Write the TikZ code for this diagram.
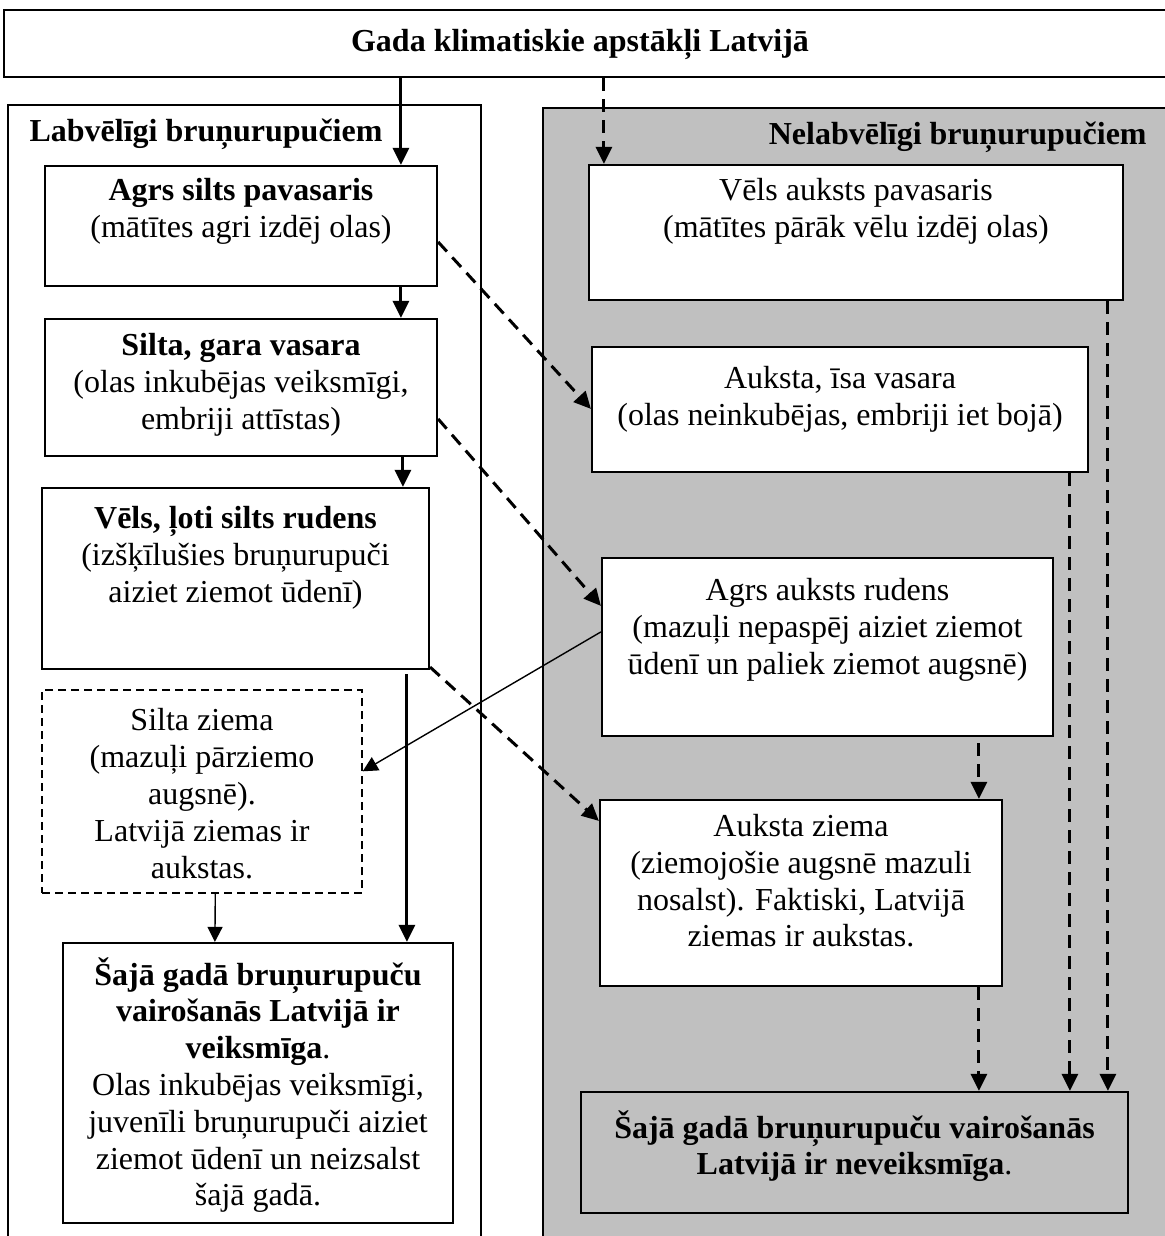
\documentclass[tikz,border=0pt]{standalone}
\usepackage{fontspec}
\setmainfont{Liberation Serif}
\usetikzlibrary{arrows.meta, positioning, fit, calc}
\definecolor{panelgray}{HTML}{C0C0C0}

\begin{document}
\begin{tikzpicture}[x=0.5pt, y=-0.5pt,
    box/.style={draw, line width=1.1pt, fill=white, inner sep=0pt},
    txt/.style={align=center, inner sep=0pt, font=\fontsize{16pt}{18.4pt}\selectfont, execute at begin node=\strut},
    strongarrow/.style={-{Triangle[length=8.5pt,width=8pt]}, line width=1.5pt},
    dasharrow/.style={-{Triangle[length=8.5pt,width=8pt]}, line width=1.5pt, dash pattern=on 6.5pt off 4pt},
    weakarrow/.style={-{Triangle[length=7.5pt,width=7.5pt]}, line width=0.7pt}
]
\useasboundingbox (0,0) rectangle (1165,1236);

\draw[line width=0.9pt] (8,1260) -- (8,105) -- (481,105) -- (481,1260);
\filldraw[fill=panelgray, line width=0.9pt] (543,1260) -- (543,108) -- (1180,108) -- (1180,1260);

\node[box, fit={(4,10) (1180,77)}] (top) {};
\node[txt] (title) at (580,44) {\textbf{Gada klimatiskie apstākļi Latvijā}};
\node[txt] (goodT) at (206,134) {\textbf{Labvēlīgi bruņurupučiem}};
\node[txt, anchor=east] (badT) at (1147,137) {\textbf{Nelabvēlīgi bruņurupučiem}};

\node[box, fit={(45,166) (437,286)}] (agrs) {};
\node[txt, below=6.5pt of agrs.north] (agrsT) {\textbf{Agrs silts pavasaris}\\(mātītes agri izdēj olas)};

\node[box, fit={(589,165) (1123,300)}] (vels) {};
\node[txt, below=7pt of vels.north] (velsT) {Vēls auksts pavasaris\\(mātītes pārāk vēlu izdēj olas)};

\node[box, fit={(45,319) (437,456)}] (vasara) {};
\node[txt, below=7.5pt of vasara.north] (vasaraT) {\textbf{Silta, gara vasara}\\(olas inkubējas veiksmīgi,\\embriji attīstas)};

\node[box, fit={(592,347) (1088,472)}] (aukstaV) {};
\node[txt, below=10pt of aukstaV.north] (aukstaVT) {Auksta, īsa vasara\\(olas neinkubējas, embriji iet bojā)};

\node[box, fit={(42,488) (429,669)}] (rudens) {};
\node[txt, below=9.5pt of rudens.north] (rudensT) {\textbf{Vēls, ļoti silts rudens}\\(izšķīlušies bruņurupuči\\aiziet ziemot ūdenī)};

\node[box, fit={(602,558) (1053,736)}] (agrsR) {};
\node[txt, below=10.5pt of agrsR.north] (agrsRT) {Agrs auksts rudens\\(mazuļi nepaspēj aiziet ziemot\\ūdenī un paliek ziemot augsnē)};

\node[box, line width=0.7pt, dash pattern=on 4pt off 2.5pt, fit={(42,690) (362,893)}] (ziema) {};
\node[txt, below=9.5pt of ziema.north] (ziemaT) {Silta ziema\\(mazuļi pārziemo\\augsnē).\\Latvijā ziemas ir\\aukstas.};

\node[box, fit={(600,800) (1002,986)}] (aukstaZ) {};
\node[txt, below=7.5pt of aukstaZ.north] (aukstaZT) {Auksta ziema\\(ziemojošie augsnē mazuli\\nosalst). Faktiski, Latvijā\\ziemas ir aukstas.};

\node[box, fit={(63,943) (453,1223)}] (labs) {};
\node[txt, below=7.5pt of labs.north] (labsT) {\textbf{Šajā gadā bruņurupuču}\\\textbf{vairošanās Latvijā ir}\\\textbf{veiksmīga}.\\Olas inkubējas veiksmīgi,\\juvenīli bruņurupuči aiziet\\ziemot ūdenī un neizsalst\\šajā gadā.};

\node[box, fill=panelgray, fit={(581,1092) (1128,1213)}] (slikts) {};
\node[txt, below=9.5pt of slikts.north] (sliktsT) {\textbf{Šajā gadā bruņurupuču vairošanās}\\\textbf{Latvijā ir neveiksmīga}.};

\draw[strongarrow] ($(top.south west)+(398,0)$) -- ($(agrs.north west)+(357,0)$);
\draw[dasharrow] ($(top.south west)+(601,0)$) -- ($(vels.north west)+(16,0)$);
\draw[strongarrow] ($(agrs.south west)+(357,0)$) -- ($(vasara.north west)+(357,0)$);
\draw[strongarrow] ($(vasara.south west)+(359,0)$) -- ($(rudens.north west)+(362,0)$);
\draw[strongarrow] ($(rudens.south west)+(366,4)$) -- ($(labs.north west)+(345,0)$);
\draw[weakarrow] ($(ziema.south west)+(174,0)$) -- ($(labs.north west)+(153,0)$);

\draw[dasharrow] ($(agrs.north east)+(0,77)$) -- ($(aukstaV.north west)+(0,63)$);
\draw[dasharrow] ($(vasara.north east)+(0,101)$) -- ($(agrsR.north west)+(0,49)$);
\draw[dasharrow] ($(rudens.south east)+(0,-3)$) -- ($(aukstaZ.north west)+(0,22)$);
\draw[weakarrow] ($(agrsR.north west)+(0,75)$) -- ($(ziema.north east)+(0,82)$);

\draw[dasharrow] ($(agrsR.south west)+(378,6)$) -- ($(aukstaZ.north west)+(380,0)$);
\draw[dasharrow] ($(aukstaZ.south west)+(380,0)$) -- ($(slikts.north west)+(399,0)$);
\draw[dasharrow] ($(aukstaV.south west)+(479,0)$) -- ($(slikts.north west)+(490,0)$);
\draw[dasharrow] ($(vels.south west)+(520,0)$) -- ($(slikts.north west)+(528,0)$);
\end{tikzpicture}
\end{document}
